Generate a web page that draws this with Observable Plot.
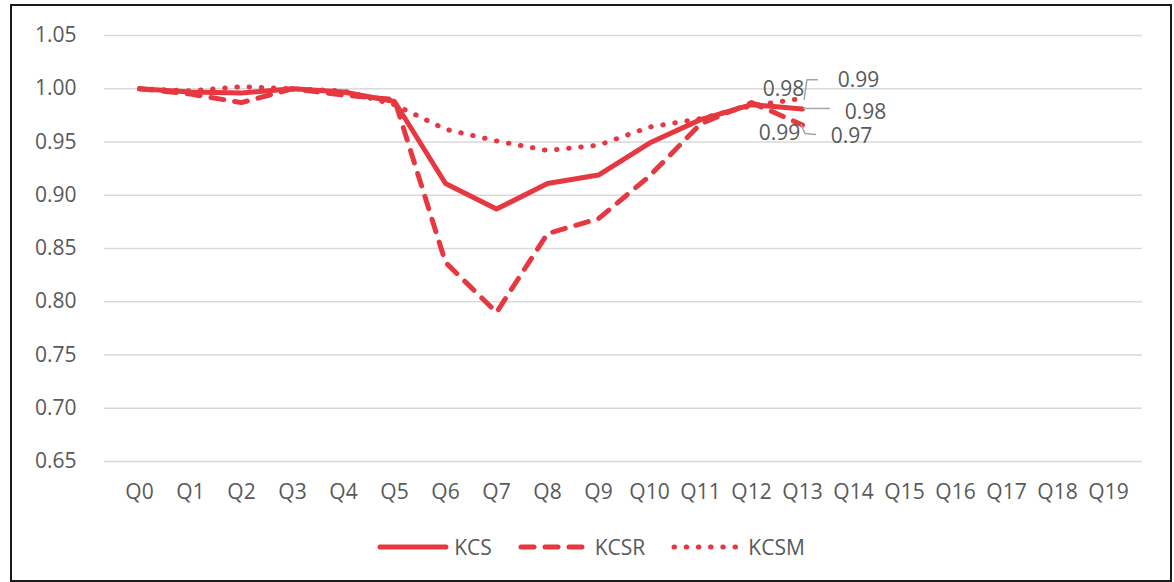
<!DOCTYPE html>
<html>
<head>
<meta charset="utf-8">
<script src="https://cdn.jsdelivr.net/npm/d3@7"></script>
<script src="https://cdn.jsdelivr.net/npm/@observablehq/plot@0.6"></script>
<style>
  body { margin: 0; background: #fff; }
  #frame {
    position: absolute; left: 10px; top: 4px;
    width: 1158px; height: 574px;
    border: 2px solid #1a1a1a; background: #fff;
    font-family: "Open Sans", sans-serif;
  }
  #legend {
    display: flex; justify-content: center; align-items: center;
    margin-top: 26px; height: 30px;
    font-size: 21px; color: #595959;
  }
  #legend .item { display: flex; align-items: center; margin: 0 13px; }
  #legend svg { margin-right: 5px; }
</style>
</head>
<body>
<div id="frame">
  <div id="chart"></div>
  <div id="legend"></div>
</div>
<script>
// ---- data ----
const quarters = ["Q0","Q1","Q2","Q3","Q4","Q5","Q6","Q7","Q8","Q9","Q10","Q11","Q12","Q13","Q14","Q15","Q16","Q17","Q18","Q19"];
const kcs  = [1.000, 0.997, 0.996, 1.000, 0.997, 0.988, 0.911, 0.887, 0.911, 0.919, 0.949, 0.971, 0.985, 0.981];
const kcsr = [1.000, 0.995, 0.987, 1.000, 0.994, 0.990, 0.837, 0.790, 0.864, 0.878, 0.918, 0.967, 0.987, 0.966];
const kcsm = [1.000, 0.998, 1.002, 1.000, 0.998, 0.985, 0.962, 0.951, 0.942, 0.947, 0.964, 0.972, 0.984, 0.991];
const seriesNames = ["KCS", "KCSR", "KCSM"];
const yTicks = [0.65, 0.70, 0.75, 0.80, 0.85, 0.90, 0.95, 1.00, 1.05];

// ---- styling ----
const RED = "#e63841";
const GREY = "#595959";
const dashes = { KCS: null, KCSR: "13,11", KCSM: "0.5,11.7" };

const toRows = (name, vals) => vals.map((v, i) => ({ q: quarters[i], v, s: name }));
const rows = { KCS: toRows("KCS", kcs), KCSR: toRows("KCSR", kcsr), KCSM: toRows("KCSM", kcsm) };
const fmt = d3.format(".2f");
const last = (name) => rows[name][rows[name].length - 1];
const at = (name, q) => rows[name].find(d => d.q === q);

const lineMark = (name) => Plot.line(rows[name], {
  x: "q", y: "v", stroke: RED, strokeWidth: 5,
  strokeDasharray: dashes[name], strokeLinecap: "round", strokeLinejoin: "round"
});

const labelMark = (d, dx, dy) => Plot.text([d], {
  x: "q", y: "v", text: d => fmt(d.v), dx, dy,
  fill: GREY, fontSize: 21, textAnchor: "middle"
});

// leader lines for the last-point labels (pixel offsets from the data point)
const leaders = [
  { d: last("KCSM"), pts: [[2, 2], [5, -18], [16, -18]] },
  { d: last("KCS"),  pts: [[1, 0], [28, 0]] },
  { d: last("KCSR"), pts: [[-1, 0], [3, 9], [14, 10]] }
];
function leaderMark(index, scales) {
  const g = d3.create("svg:g").attr("fill", "none").attr("stroke", "#a6a6a6").attr("stroke-width", 1.5);
  for (const L of leaders) {
    const x0 = scales.x(L.d.q), y0 = scales.y(L.d.v);
    g.append("polyline").attr("points", L.pts.map(([a, b]) => `${x0 + a},${y0 + b}`).join(" "));
  }
  return g.node();
}

const chart = Plot.plot({
  width: 1158, height: 500,
  marginLeft: 92, marginRight: 28, marginTop: 29, marginBottom: 45,
  style: { fontFamily: "'Open Sans', sans-serif", fontSize: "21px", color: GREY, background: "white", overflow: "visible" },
  x: { type: "point", domain: quarters, padding: 0.5, label: null, tickSize: 0, tickPadding: 23 },
  y: { domain: [0.65, 1.05], ticks: yTicks, tickFormat: fmt, label: null, tickSize: 0, tickPadding: 28 },
  marks: [
    Plot.ruleY(yTicks, { stroke: "#d9d9d9", strokeWidth: 1.5 }),
    lineMark("KCSM"),
    lineMark("KCSR"),
    lineMark("KCS"),
    leaderMark,
    labelMark(at("KCSM", "Q12"), 32, -17),
    labelMark(at("KCSR", "Q12"), 28, 31),
    labelMark(last("KCSM"), 56, -18),
    labelMark(last("KCS"), 63, 3),
    labelMark(last("KCSR"), 49, 11)
  ]
});
document.getElementById("chart").appendChild(chart);

// legend
const legend = d3.select("#legend");
for (const name of seriesNames) {
  const item = legend.append("div").attr("class", "item");
  const sw = item.append("svg").attr("width", 72).attr("height", 12);
  sw.append("line").attr("x1", 3).attr("x2", 69).attr("y1", 6).attr("y2", 6)
    .attr("stroke", RED).attr("stroke-width", 5).attr("stroke-linecap", "round")
    .attr("stroke-dasharray", dashes[name]);
  item.append("span").text(name);
}
</script>
</body>
</html>
